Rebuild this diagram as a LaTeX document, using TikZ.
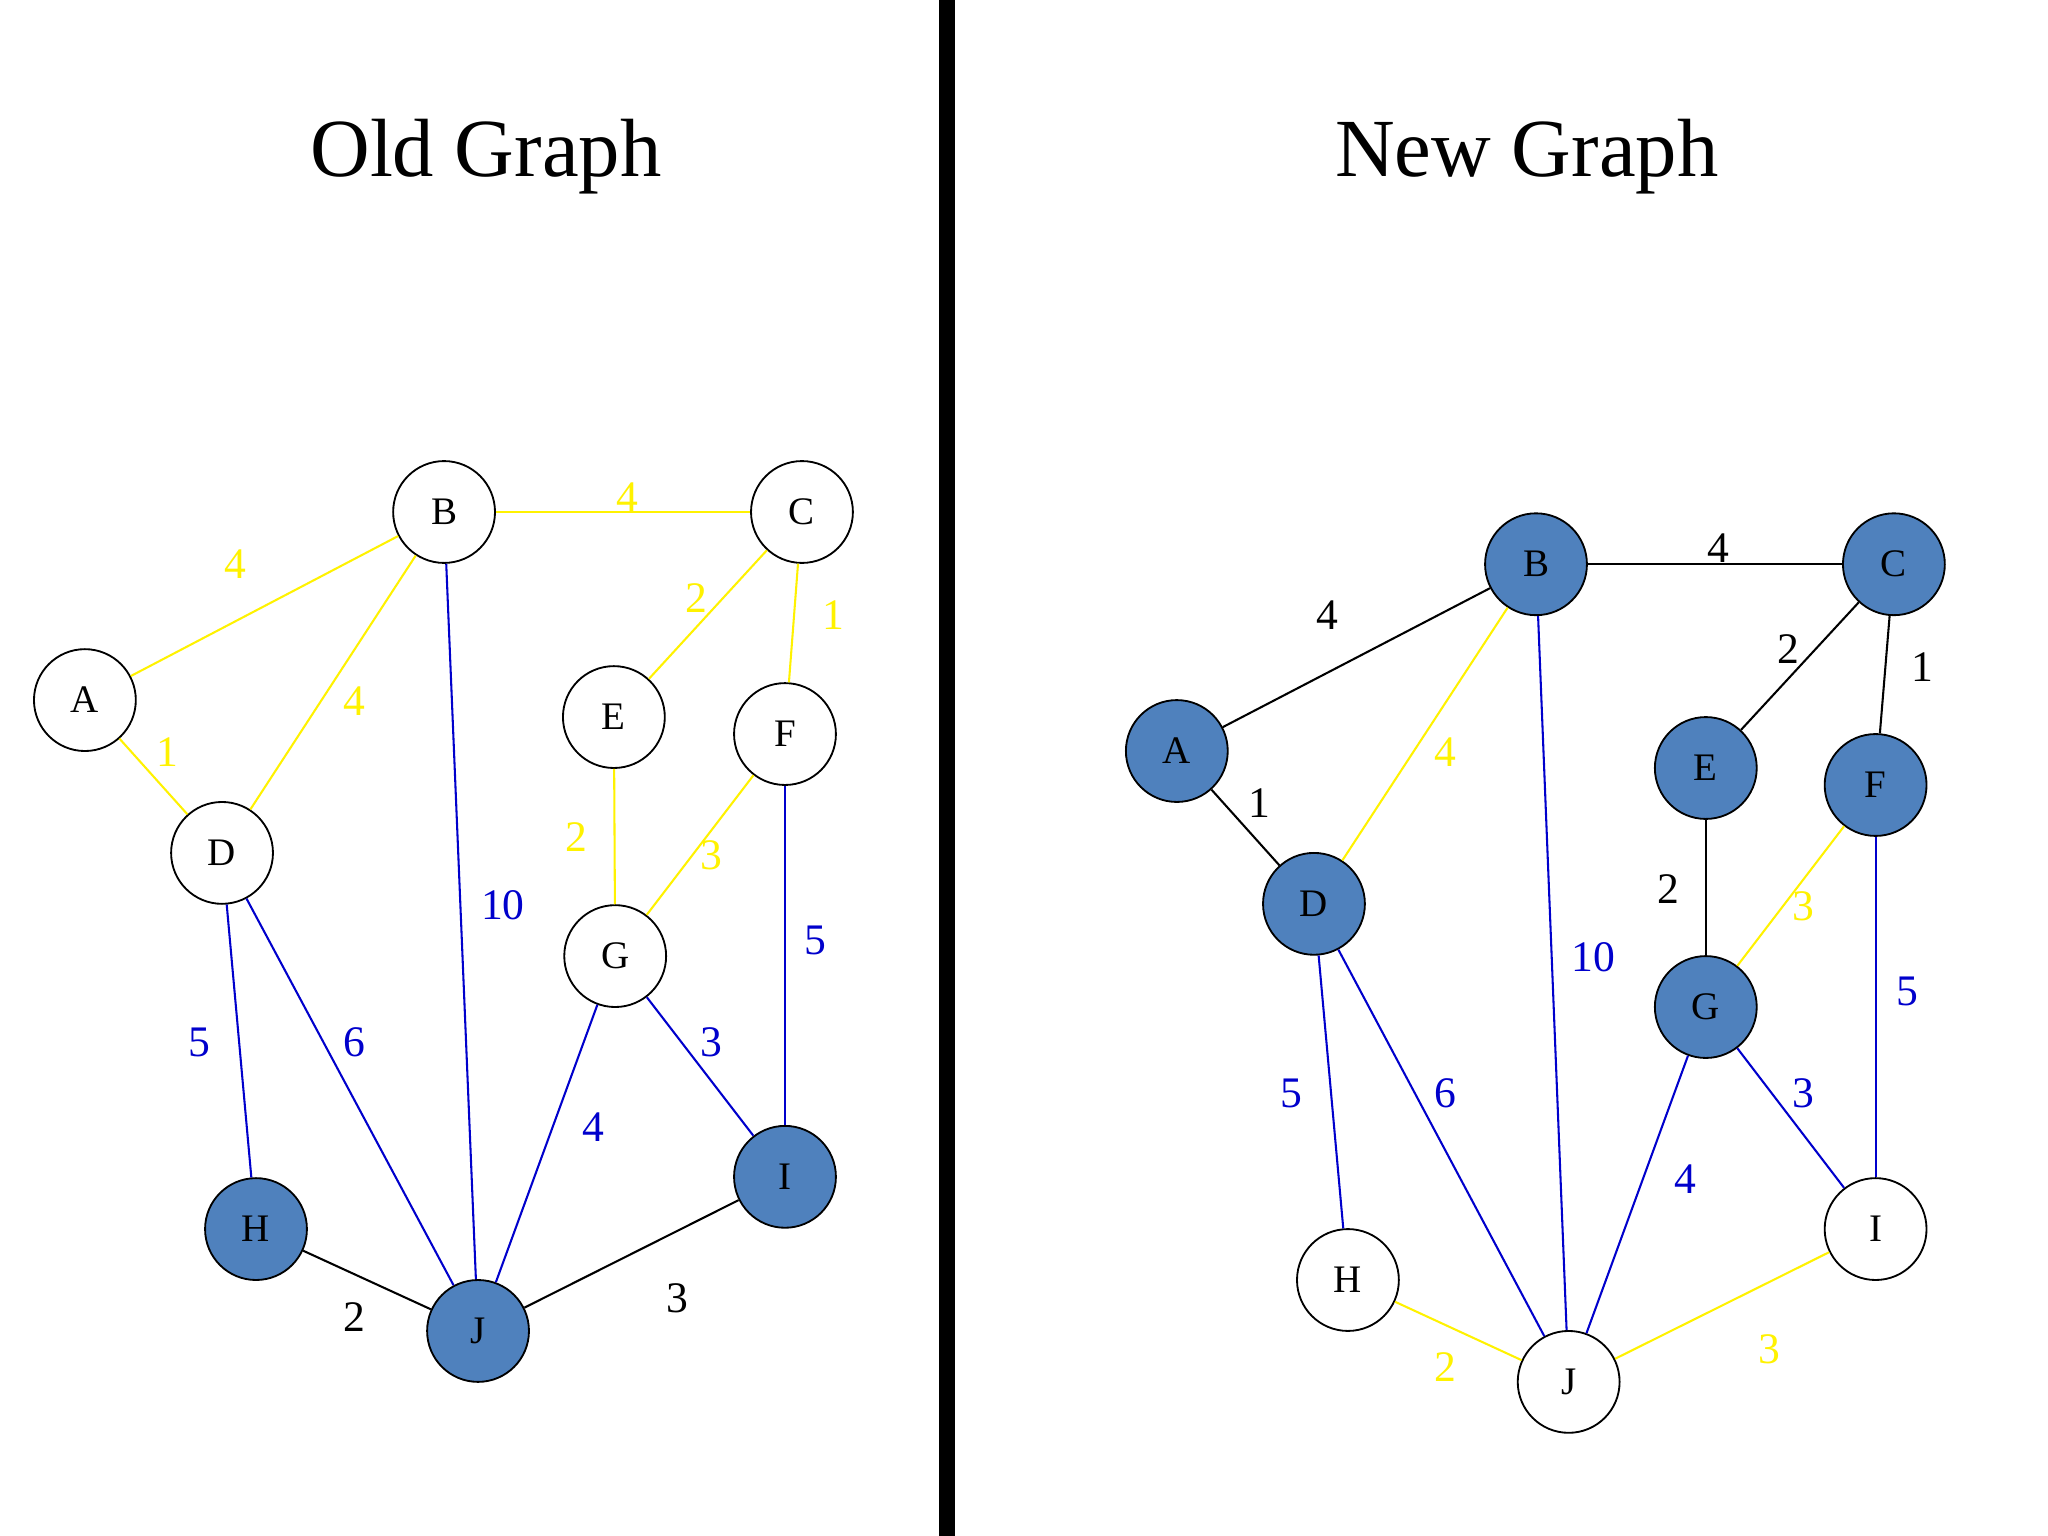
\documentclass[tikz,border=0pt]{standalone}
\usepackage{fontspec}
\setmainfont{Liberation Serif}
\begin{document}
\begin{tikzpicture}[x=0.02cm,y=-0.02cm,
  v/.style={circle,draw=black,line width=0.8pt,minimum size=1.56cm,inner sep=0pt,font=\fontsize{17}{17}\selectfont,fill=white},
  f/.style={v,fill=nodeblue},
  e/.style={line width=0.9pt},
  lb/.style={font=\fontsize{19}{19}\selectfont},
  ye/.style={e,draw=yellow},yl/.style={lb,text=yellow},
  be/.style={e,draw=edgeblue},bl/.style={lb,text=edgeblue},
  ke/.style={e,draw=black},kl/.style={lb,text=black},
  ttl/.style={font=\fontsize{36}{36}\selectfont}]
\definecolor{nodeblue}{HTML}{4F81BD}
\definecolor{edgeblue}{HTML}{0000CC}
\useasboundingbox (0,0) rectangle (1568,1176);
\fill[white] (0,0) rectangle (1568,1176);
\fill[black] (719,0) rectangle (731,1176);
\node[ttl] (t1) at (372,120) {Old Graph};
\node[ttl] (t2) at (1169,120) {New Graph};
% Old graph
\node[v] (A) at (65,536) {A};
\node[v] (B) at (340,392) {B};
\node[v] (C) at (614,392) {C};
\node[v] (D) at (170,653) {D};
\node[v] (E) at (470,549) {E};
\node[v] (F) at (601,562) {F};
\node[v] (G) at (471,732) {G};
\node[f] (H) at (196,941) {H};
\node[f] (I) at (601,901) {I};
\node[f] (J) at (366,1019) {J};
\draw[ye] (A)--(B); \node[yl] (l1) at (180,432) {4};
\draw[ye] (A)--(D); \node[yl] (l2) at (128,576) {1};
\draw[ye] (B)--(C); \node[yl] (l3) at (480,381) {4};
\draw[ye] (B)--(D); \node[yl] (l4) at (271,537) {4};
\draw[be] (B)--(J); \node[bl] (l5) at (385,693) {10};
\draw[ye] (C)--(E); \node[yl] (l6) at (533,458) {2};
\draw[ye] (C)--(F); \node[yl] (l7) at (638,471) {1};
\draw[ye] (E)--(G); \node[yl] (l8) at (441,641) {2};
\draw[ye] (F)--(G); \node[yl] (l9) at (545,655) {3};
\draw[be] (F)--(I); \node[bl] (l10) at (624,720) {5};
\draw[be] (G)--(I); \node[bl] (l11) at (545,798) {3};
\draw[be] (G)--(J); \node[bl] (l12) at (454,863) {4};
\draw[be] (D)--(H); \node[bl] (l13) at (153,798) {5};
\draw[be] (D)--(J); \node[bl] (l14) at (271,798) {6};
\draw[ke] (H)--(J); \node[kl] (l15) at (271,1008) {2};
\draw[ke] (J)--(I); \node[kl] (l16) at (519,994) {3};
% New graph
\node[f] (A2) at (901,575) {A};
\node[f] (B2) at (1176,432) {B};
\node[f] (C2) at (1450,432) {C};
\node[f] (D2) at (1006,692) {D};
\node[f] (E2) at (1306,588) {E};
\node[f] (F2) at (1436,601) {F};
\node[f] (G2) at (1306,771) {G};
\node[v] (H2) at (1032,980) {H};
\node[v] (I2) at (1436,941) {I};
\node[v] (J2) at (1201,1058) {J};
\draw[ke] (A2)--(B2); \node[kl] (m1) at (1016,471) {4};
\draw[ke] (A2)--(D2); \node[kl] (m2) at (964,615) {1};
\draw[ke] (B2)--(C2); \node[kl] (m3) at (1316,420) {4};
\draw[ye] (B2)--(D2); \node[yl] (m4) at (1107,576) {4};
\draw[be] (B2)--(J2); \node[bl] (m5) at (1220,733) {10};
\draw[ke] (C2)--(E2); \node[kl] (m6) at (1369,497) {2};
\draw[ke] (C2)--(F2); \node[kl] (m7) at (1472,511) {1};
\draw[ke] (E2)--(G2); \node[kl] (m8) at (1277,681) {2};
\draw[ye] (F2)--(G2); \node[yl] (m9) at (1381,694) {3};
\draw[be] (F2)--(I2); \node[bl] (m10) at (1460,759) {5};
\draw[be] (G2)--(I2); \node[bl] (m11) at (1381,837) {3};
\draw[be] (G2)--(J2); \node[bl] (m12) at (1290,903) {4};
\draw[be] (D2)--(H2); \node[bl] (m13) at (989,837) {5};
\draw[be] (D2)--(J2); \node[bl] (m14) at (1107,837) {6};
\draw[ye] (H2)--(J2); \node[yl] (m15) at (1107,1047) {2};
\draw[ye] (J2)--(I2); \node[yl] (m16) at (1355,1033) {3};
\end{tikzpicture}
\end{document}
